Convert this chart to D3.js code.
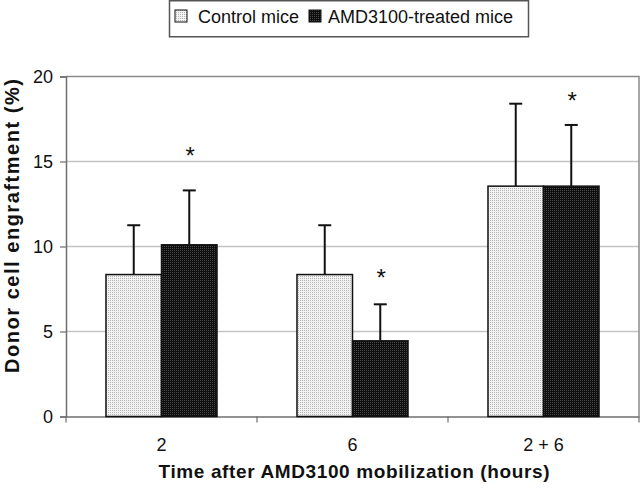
<!DOCTYPE html>
<html>
<head>
<meta charset="utf-8">
<script src="https://cdn.jsdelivr.net/npm/d3@7"></script>
<style>
  html, body { margin: 0; padding: 0; background: #fff; }
  svg { display: block; font-family: "Liberation Sans", Arial, sans-serif; }
</style>
</head>
<body>
<div id="chart"></div>
<script>
// data
var categories = ['2', '6', '2 + 6'];
var series = ['Control mice', 'AMD3100-treated mice'];
var control_values = [8.35, 8.35, 13.55];
var control_errors = [2.9, 2.9, 4.85];
var treated_values = [10.1, 4.45, 13.55];
var treated_errors = [3.2, 2.15, 3.6];
// asterisk marks above the treated bars (height in % units)
var star_levels = [15.6, 8.45, 18.85];
var y_ticks = [0, 5, 10, 15, 20];

var width = 640,
    height = 491;

// plot area
var plot = { left: 66, right: 639, top: 76.5, bottom: 416.5 };

var svg = d3.select('#chart')
    .append('svg')
    .attr('width', width)
    .attr('height', height);

// fill patterns (dotted grey / dotted black like the original)
var defs = svg.append('defs');
var pat_light = defs.append('pattern')
    .attr('id', 'pat-light')
    .attr('width', 2).attr('height', 2)
    .attr('patternUnits', 'userSpaceOnUse');
pat_light.append('rect').attr('width', 2).attr('height', 2).attr('fill', '#f3f3f3');
pat_light.append('rect').attr('width', 1).attr('height', 1).attr('fill', '#b4b4b4');

var pat_dark = defs.append('pattern')
    .attr('id', 'pat-dark')
    .attr('width', 2).attr('height', 2)
    .attr('patternUnits', 'userSpaceOnUse');
pat_dark.append('rect').attr('width', 2).attr('height', 2).attr('fill', '#0e0e0e');
pat_dark.append('rect').attr('width', 1).attr('height', 1).attr('fill', '#4a4a4a');

var fills = ['url(#pat-light)', 'url(#pat-dark)'];

// scales
var x0 = d3.scaleBand()
    .domain(categories)
    .range([plot.left, plot.right])
    .padding(0);

var x1 = d3.scaleBand()
    .domain(series)
    .range([0, x0.bandwidth()])
    .paddingInner(0)
    .paddingOuter(0.72);

var y = d3.scaleLinear()
    .domain([0, 20])
    .range([plot.bottom, plot.top]);

// gridlines
svg.append('g')
    .selectAll('line')
    .data(y_ticks.filter(d => d > 0 && d < 20))
    .enter()
    .append('line')
    .attr('x1', plot.left)
    .attr('x2', plot.right)
    .attr('y1', d => y(d))
    .attr('y2', d => y(d))
    .attr('stroke', '#c4c4c4')
    .attr('stroke-width', 1.5);

// frame (top and right)
svg.append('path')
    .attr('d', 'M' + plot.left + ',' + y(20) + 'H' + plot.right + 'V' + plot.bottom)
    .attr('fill', 'none')
    .attr('stroke', '#8a8a8a')
    .attr('stroke-width', 1.5);

// y axis
var y_axis = svg.append('g')
    .attr('transform', 'translate(' + plot.left + ',0)')
    .call(d3.axisLeft(y).tickValues(y_ticks).tickSize(6).tickPadding(7));
y_axis.select('.domain').attr('stroke', '#6e6e6e').attr('stroke-width', 1.5);
y_axis.selectAll('.tick line').attr('stroke', '#6e6e6e').attr('stroke-width', 1.2);
y_axis.selectAll('.tick text')
    .attr('font-size', 18)
    .attr('font-family', '"Liberation Sans", Arial, sans-serif')
    .attr('fill', '#111');

// x axis
var x_axis = svg.append('g')
    .attr('transform', 'translate(0,' + plot.bottom + ')')
    .call(d3.axisBottom(x0).tickSize(0).tickPadding(22));
x_axis.select('.domain').attr('stroke', '#6e6e6e').attr('stroke-width', 1.5);
x_axis.selectAll('.tick text')
    .attr('font-size', 18)
    .attr('font-family', '"Liberation Sans", Arial, sans-serif')
    .attr('fill', '#111');

// tick marks between categories
svg.append('g')
    .selectAll('line')
    .data(categories.concat(['end']))
    .enter()
    .append('line')
    .attr('x1', (d, i) => i < categories.length ? x0(d) : plot.right)
    .attr('x2', (d, i) => i < categories.length ? x0(d) : plot.right)
    .attr('y1', plot.bottom)
    .attr('y2', plot.bottom + 6)
    .attr('stroke', '#6e6e6e')
    .attr('stroke-width', 1.2);

// bars
var rows = categories.map(function(c, i) {
    return [
        { cat: c, s: series[0], v: control_values[i], e: control_errors[i], k: 0 },
        { cat: c, s: series[1], v: treated_values[i], e: treated_errors[i], k: 1 }
    ];
});
var flat = [].concat.apply([], rows);

var cap = 13;

// error bars (upper only), drawn before bars
var err = svg.append('g').selectAll('g')
    .data(flat)
    .enter()
    .append('g');
err.append('line')
    .attr('x1', d => x0(d.cat) + x1(d.s) + x1.bandwidth() / 2)
    .attr('x2', d => x0(d.cat) + x1(d.s) + x1.bandwidth() / 2)
    .attr('y1', d => y(d.v))
    .attr('y2', d => y(d.v + d.e))
    .attr('stroke', '#111')
    .attr('stroke-width', 2);
err.append('line')
    .attr('x1', d => x0(d.cat) + x1(d.s) + x1.bandwidth() / 2 - cap / 2)
    .attr('x2', d => x0(d.cat) + x1(d.s) + x1.bandwidth() / 2 + cap / 2)
    .attr('y1', d => y(d.v + d.e))
    .attr('y2', d => y(d.v + d.e))
    .attr('stroke', '#111')
    .attr('stroke-width', 2);

svg.append('g').selectAll('rect')
    .data(flat)
    .enter()
    .append('rect')
    .attr('x', d => x0(d.cat) + x1(d.s))
    .attr('y', d => y(d.v))
    .attr('width', x1.bandwidth())
    .attr('height', d => y(0) - y(d.v))
    .attr('fill', d => fills[d.k])
    .attr('stroke', '#111')
    .attr('stroke-width', 1.5);

// asterisks
svg.append('g').selectAll('text')
    .data(star_levels)
    .enter()
    .append('text')
    .attr('x', (d, i) => x0(categories[i]) + x1(series[1]) + x1.bandwidth() / 2 + 1)
    .attr('y', d => y(d) + 13)
    .attr('text-anchor', 'middle')
    .attr('font-size', 24)
    .attr('fill', '#111')
    .text('*');

// axis titles
svg.append('text')
    .attr('transform', 'translate(19,' + 226 + ') rotate(-90)')
    .attr('text-anchor', 'middle')
    .attr('font-size', 20)
    .attr('font-weight', 'bold')
    .attr('fill', '#111')
    .attr('textLength', 294)
    .attr('lengthAdjust', 'spacing')
    .text('Donor cell engraftment (%)');

svg.append('text')
    .attr('x', 354)
    .attr('y', 478)
    .attr('text-anchor', 'middle')
    .attr('font-size', 19)
    .attr('font-weight', 'bold')
    .attr('fill', '#111')
    .attr('textLength', 391)
    .attr('lengthAdjust', 'spacing')
    .text('Time after AMD3100 mobilization (hours)');

// legend
var legend = svg.append('g');
legend.append('rect')
    .attr('x', 169.5)
    .attr('y', 0.75)
    .attr('width', 359)
    .attr('height', 36)
    .attr('fill', '#fff')
    .attr('stroke', '#555')
    .attr('stroke-width', 1.5);

var legend_x = [175, 309];
var legend_tx = [198, 328];
series.forEach(function(s, i) {
    legend.append('rect')
        .attr('x', legend_x[i])
        .attr('y', 10)
        .attr('width', 12)
        .attr('height', 12)
        .attr('fill', fills[i])
        .attr('stroke', '#111')
        .attr('stroke-width', 1);
    legend.append('text')
        .attr('x', legend_tx[i])
        .attr('y', 22.5)
        .attr('font-size', 18)
        .attr('fill', '#111')
        .text(s);
});
</script>
</body>
</html>
